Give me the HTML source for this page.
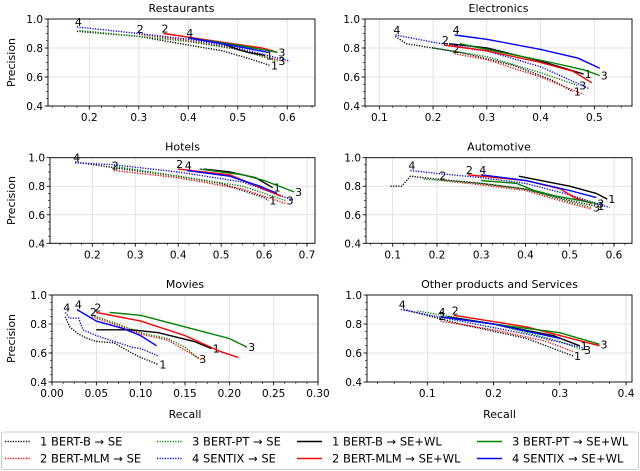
<!DOCTYPE html>
<html><head><meta charset="utf-8"><style>
html,body{margin:0;padding:0;background:#fff;}
svg{display:block;font-family:"DejaVu Sans","Liberation Sans",sans-serif;}
</style></head><body>
<svg id="fig" width="640" height="471" viewBox="0 0 640 471" xmlns="http://www.w3.org/2000/svg"></svg>
<script>
// ---- data: [recall, precision] points per series ----
// Restaurants
const rest_1se=[[0.175,0.915],[0.3,0.88],[0.4,0.82],[0.47,0.78],[0.52,0.73],[0.565,0.68]];
const rest_2se=[[0.3,0.895],[0.4,0.85],[0.5,0.79],[0.59,0.71]];
const rest_3se=[[0.18,0.92],[0.3,0.88],[0.4,0.845],[0.5,0.79],[0.58,0.71]];
const rest_4se=[[0.175,0.945],[0.3,0.9],[0.4,0.86],[0.5,0.8],[0.605,0.71]];
const rest_1wl=[[0.4,0.87],[0.47,0.83],[0.5,0.79],[0.52,0.77],[0.555,0.75]];
const rest_2wl=[[0.35,0.9],[0.45,0.85],[0.55,0.8],[0.58,0.77]];
const rest_3wl=[[0.4,0.87],[0.5,0.82],[0.58,0.77]];
const rest_4wl=[[0.4,0.87],[0.5,0.81],[0.56,0.77]];
// Electronics
const elec_1se=[[0.13,0.88],[0.15,0.83],[0.25,0.77],[0.35,0.68],[0.42,0.58],[0.46,0.5]];
const elec_2se=[[0.24,0.76],[0.3,0.72],[0.4,0.6],[0.48,0.48]];
const elec_3se=[[0.2,0.8],[0.3,0.74],[0.4,0.63],[0.47,0.54]];
const elec_4se=[[0.13,0.89],[0.2,0.84],[0.3,0.78],[0.4,0.67],[0.49,0.52]];
const elec_1wl=[[0.23,0.83],[0.3,0.8],[0.4,0.71],[0.48,0.62]];
const elec_2wl=[[0.22,0.82],[0.3,0.78],[0.4,0.7],[0.46,0.64],[0.495,0.56]];
const elec_3wl=[[0.25,0.83],[0.3,0.79],[0.42,0.7],[0.48,0.65],[0.51,0.61]];
const elec_4wl=[[0.24,0.89],[0.3,0.86],[0.4,0.79],[0.47,0.73],[0.51,0.66]];
// Hotels
const hot_1se=[[0.16,0.97],[0.25,0.93],[0.4,0.87],[0.5,0.82],[0.6,0.72],[0.61,0.7]];
const hot_2se=[[0.25,0.91],[0.4,0.86],[0.55,0.78],[0.65,0.68]];
const hot_3se=[[0.25,0.94],[0.4,0.87],[0.55,0.8],[0.65,0.7]];
const hot_4se=[[0.16,0.965],[0.25,0.95],[0.4,0.9],[0.55,0.83],[0.67,0.7]];
const hot_1wl=[[0.46,0.92],[0.52,0.9],[0.58,0.86],[0.62,0.79]];
const hot_2wl=[[0.4,0.92],[0.52,0.88],[0.6,0.78],[0.64,0.73]];
const hot_3wl=[[0.45,0.92],[0.55,0.88],[0.6,0.84],[0.67,0.76]];
const hot_4wl=[[0.42,0.91],[0.52,0.87],[0.59,0.8],[0.63,0.75]];
// Automotive
const auto_1se=[[0.095,0.8],[0.12,0.8],[0.14,0.87],[0.2,0.85],[0.3,0.82],[0.4,0.78],[0.5,0.7],[0.56,0.66]];
const auto_2se=[[0.21,0.84],[0.3,0.81],[0.4,0.77],[0.5,0.68],[0.55,0.64]];
const auto_3se=[[0.17,0.85],[0.3,0.82],[0.4,0.78],[0.5,0.69],[0.55,0.65]];
const auto_4se=[[0.14,0.91],[0.2,0.89],[0.3,0.86],[0.4,0.82],[0.5,0.74],[0.59,0.65]];
const auto_1wl=[[0.385,0.87],[0.5,0.8],[0.56,0.75],[0.585,0.71]];
const auto_2wl=[[0.27,0.88],[0.4,0.84],[0.48,0.78],[0.51,0.72],[0.55,0.68]];
const auto_3wl=[[0.3,0.84],[0.38,0.82],[0.42,0.77],[0.47,0.73],[0.56,0.68]];
const auto_4wl=[[0.3,0.88],[0.4,0.84],[0.5,0.77],[0.56,0.72]];
// Movies
const mov_1se=[[0.015,0.85],[0.02,0.78],[0.03,0.73],[0.04,0.7],[0.05,0.68],[0.07,0.67],[0.09,0.6],[0.1,0.57],[0.12,0.52]];
const mov_2se=[[0.045,0.85],[0.07,0.8],[0.1,0.73],[0.13,0.69],[0.17,0.55]];
const mov_3se=[[0.045,0.86],[0.07,0.81],[0.1,0.74],[0.13,0.7],[0.15,0.64],[0.165,0.56]];
const mov_4se=[[0.015,0.88],[0.02,0.84],[0.03,0.84],[0.035,0.76],[0.05,0.72],[0.07,0.68],[0.09,0.64],[0.1,0.63],[0.12,0.58]];
const mov_1wl=[[0.05,0.76],[0.09,0.76],[0.12,0.74],[0.16,0.68],[0.18,0.63]];
const mov_2wl=[[0.05,0.88],[0.1,0.82],[0.15,0.72],[0.19,0.61],[0.21,0.57]];
const mov_3wl=[[0.065,0.88],[0.1,0.86],[0.15,0.78],[0.2,0.7],[0.22,0.64]];
const mov_4wl=[[0.028,0.9],[0.05,0.82],[0.08,0.77],[0.1,0.72],[0.118,0.65]];
// Other products and Services
const oth_1se=[[0.065,0.9],[0.15,0.8],[0.25,0.7],[0.32,0.58]];
const oth_2se=[[0.12,0.82],[0.2,0.76],[0.28,0.68],[0.32,0.61]];
const oth_3se=[[0.085,0.89],[0.2,0.8],[0.3,0.68],[0.335,0.62]];
const oth_4se=[[0.06,0.9],[0.15,0.82],[0.25,0.73],[0.34,0.63]];
const oth_1wl=[[0.13,0.85],[0.2,0.8],[0.29,0.72],[0.33,0.65]];
const oth_2wl=[[0.14,0.86],[0.25,0.78],[0.36,0.65]];
const oth_3wl=[[0.12,0.85],[0.2,0.8],[0.3,0.74],[0.36,0.66]];
const oth_4wl=[[0.12,0.85],[0.2,0.8],[0.3,0.7]];

const panelTitles=["Restaurants","Electronics","Hotels","Automotive","Movies","Other products and Services"];
const xTicks0=["0.2","0.3","0.4","0.5","0.6"];
const xTicks1=["0.1","0.2","0.3","0.4","0.5"];
const xTicks2=["0.2","0.3","0.4","0.5","0.6","0.7"];
const xTicks3=["0.1","0.2","0.3","0.4","0.5","0.6"];
const xTicks4=["0.00","0.05","0.10","0.15","0.20","0.25","0.30"];
const xTicks5=["0.1","0.2","0.3","0.4"];
const yTicks=["0.4","0.6","0.8","1.0"];
const legendLabels=["1 BERT-B \u2192 SE","2 BERT-MLM \u2192 SE","3 BERT-PT \u2192 SE","4 SENTIX \u2192 SE","1 BERT-B \u2192 SE+WL","2 BERT-MLM \u2192 SE+WL","3 BERT-PT \u2192 SE+WL","4 SENTIX \u2192 SE+WL"];

const NS="http://www.w3.org/2000/svg";
const svg=document.getElementById('fig');
function mk(tag,attrs,parent){const e=document.createElementNS(NS,tag);for(const k in attrs)e.setAttribute(k,attrs[k]);(parent||svg).appendChild(e);return e;}

const colors=["#000000","#ff0000","#008000","#0000ff"];
const panels=[
 {l:48,r:315,t:19,b:106,x0:0.1166,x1:0.656,ticks:xTicks0,minor:0.025,
  series:[rest_1se,rest_2se,rest_3se,rest_4se,rest_1wl,rest_2wl,rest_3wl,rest_4wl],lab:["e","s","e","s","e","s","e","s"]},
 {l:365,r:632,t:19,b:106,x0:0.0734,x1:0.570,ticks:xTicks1,minor:0.025,
  series:[elec_1se,elec_2se,elec_3se,elec_4se,elec_1wl,elec_2wl,elec_3wl,elec_4wl],lab:["e","s","e","s","e","s","e","s"]},
 {l:50,r:315,t:157.7,b:243.3,x0:0.1015,x1:0.7186,ticks:xTicks2,minor:0.025,
  series:[hot_1se,hot_2se,hot_3se,hot_4se,hot_1wl,hot_2wl,hot_3wl,hot_4wl],lab:["e","s","e","s","e","s","e","s"]},
 {l:366,r:632,t:157.7,b:243.3,x0:0.0397,x1:0.6407,ticks:xTicks3,minor:0.025,
  series:[auto_1se,auto_2se,auto_3se,auto_4se,auto_1wl,auto_2wl,auto_3wl,auto_4wl],lab:["e","s","e","s","e","s","e","s"]},
 {l:52,r:318,t:295,b:382,x0:0,x1:0.30,ticks:xTicks4,minor:0.0125,
  series:[mov_1se,mov_2se,mov_3se,mov_4se,mov_1wl,mov_2wl,mov_3wl,mov_4wl],lab:["e","s","e","s","e","s","e","s"]},
 {l:367,r:632,t:295,b:382,x0:0.009,x1:0.409,ticks:xTicks5,minor:0.025,
  series:[oth_1se,oth_2se,oth_3se,oth_4se,oth_1wl,oth_2wl,oth_3wl,oth_4wl],lab:["e","s","e","s","e","s","e","s"]}
];

panels.forEach((p,pi)=>{
  const g=mk('g',{});
  
  
  const X=v=>p.l+(v-p.x0)/(p.x1-p.x0)*(p.r-p.l);
  const Y=v=>p.b-(v-0.4)/0.6*(p.b-p.t);
  p.ticks.forEach(t=>{const x=X(+t);mk('line',{x1:x,x2:x,y1:p.t,y2:p.b,stroke:'#dcdcdc','stroke-width':0.8},g);});
  yTicks.forEach(t=>{const y=Y(+t);mk('line',{x1:p.l,x2:p.r,y1:y,y2:y,stroke:'#dcdcdc','stroke-width':0.8},g);});
  for(let v=Math.ceil(p.x0/p.minor)*p.minor;v<=p.x1+1e-9;v+=p.minor){const x=X(v);mk('line',{x1:x,x2:x,y1:p.b,y2:p.b+2,stroke:'#000','stroke-width':0.6},g);}
  for(let v=0.4;v<=1.0001;v+=0.05){const y=Y(v);mk('line',{x1:p.l-2,x2:p.l,y1:y,y2:y,stroke:'#000','stroke-width':0.6},g);}
  p.ticks.forEach(t=>{const x=X(+t);mk('line',{x1:x,x2:x,y1:p.b,y2:p.b+3.5,stroke:'#000','stroke-width':0.8},g);
    const tx=mk('text',{x:x,y:p.b+15,'font-size':10.5,'text-anchor':'middle',fill:'#000'},g);tx.textContent=t;
    
    });
  yTicks.forEach(t=>{const y=Y(+t);mk('line',{x1:p.l-3.5,x2:p.l,y1:y,y2:y,stroke:'#000','stroke-width':0.8},g);
    const tx=mk('text',{x:p.l-5,y:y+4,'font-size':10.5,'text-anchor':'end',fill:'#000'},g);tx.textContent=t;
    
    });
  p.series.forEach((s,si)=>{
    const d=s.map((pt,i)=>(i?'L':'M')+X(pt[0]).toFixed(1)+','+Y(pt[1]).toFixed(1)).join('');
    const ln=mk('path',{d:d,fill:'none',stroke:colors[si%4],'stroke-width':1.4},g);
    if(si<4){ln.setAttribute('stroke-dasharray','1.2,1.4');}
    
    
    const end=p.lab[si]==='e'?s[s.length-1]:s[0];
    const lx=X(end[0])+(p.lab[si]==='e'?1:-2), ly=Y(end[1])+(p.lab[si]==='e'?4:-1);
    const tx=mk('text',{x:lx,y:ly,'font-size':11,fill:'#000'},g);tx.textContent=String(si%4+1);
    
    
  });
  mk('rect',{x:p.l,y:p.t,width:p.r-p.l,height:p.b-p.t,fill:'none',stroke:'#000','stroke-width':0.9},g);
  const tt=mk('text',{x:(p.l+p.r)/2,y:p.t-7,'font-size':11,'text-anchor':'middle',fill:'#000'},g);tt.textContent=panelTitles[pi];
  
  
  if(pi%2===0){const yl=mk('text',{x:0,y:0,'font-size':11,'text-anchor':'middle',fill:'#000',transform:`translate(15,${(p.t+p.b)/2}) rotate(-90)`},g);yl.textContent='Precision';
    
    }
  if(pi>=4){const xl=mk('text',{x:(p.l+p.r)/2,y:418,'font-size':11,'text-anchor':'middle',fill:'#000'},g);xl.textContent='Recall';
    
    }
});

const lg=mk('g',{});


mk('rect',{x:1.5,y:432,width:637,height:37.5,rx:2,fill:'#fff',stroke:'#cccccc','stroke-width':1},lg);
const colX=[5,157,297,477];
legendLabels.forEach((lab,i)=>{
  const col=Math.floor(i/2), row=i%2;
  const sIdx=(col<2?0:4)+(col%2)*2+row;
  const y=row?458.5:441.5;
  const x=colX[col];
  const ln=mk('line',{x1:x,x2:x+25,y1:y,y2:y,stroke:colors[sIdx%4],'stroke-width':1.4},lg);
  if(sIdx<4)ln.setAttribute('stroke-dasharray','1.2,1.4');
  const tx=mk('text',{x:x+35,y:y+4,'font-size':11.5,fill:'#000'},lg);tx.textContent=legendLabels[sIdx];
  
  
});
</script>
</body></html>
